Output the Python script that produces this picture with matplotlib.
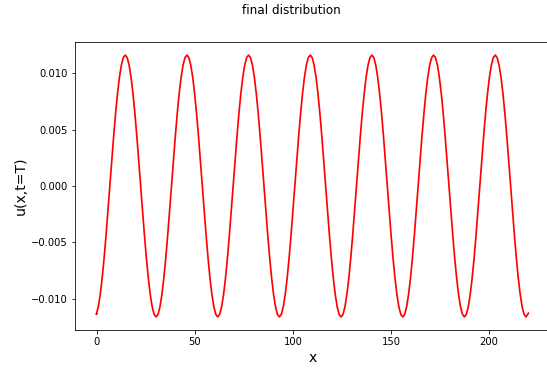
import numpy as np
import matplotlib
matplotlib.use("Agg")
import matplotlib.pyplot as plt

# Sample positions: x=0, then evenly spaced points (one every 1/32 of the ~31.4 wavelength), then x=220
x_start = [0.0]
x_grid = list(-1.11 + 0.981748 * np.arange(1, 225))
x_end = [220.0]
x_vals = x_start + x_grid + x_end

# u(x, t=T) values at those positions (seven wavelengths)
u_start = [-0.01131]
u_p1 = [-0.011377, -0.010717, -0.009645, -0.008202, -0.006445, -0.004439, -0.002263, 0.0,
        0.002263, 0.004439, 0.006445, 0.008202, 0.009645, 0.010717, 0.011377, 0.0116,
        0.011377, 0.010717, 0.009645, 0.008202, 0.006445, 0.004439, 0.002263, 0.0,
        -0.002263, -0.004439, -0.006445, -0.008202, -0.009645, -0.010717, -0.011377, -0.0116]
u_p2 = [-0.011377, -0.010717, -0.009645, -0.008202, -0.006445, -0.004439, -0.002263, 0.0,
        0.002263, 0.004439, 0.006445, 0.008202, 0.009645, 0.010717, 0.011377, 0.0116,
        0.011377, 0.010717, 0.009645, 0.008202, 0.006445, 0.004439, 0.002263, 0.0,
        -0.002263, -0.004439, -0.006445, -0.008202, -0.009645, -0.010717, -0.011377, -0.0116]
u_p3 = [-0.011377, -0.010717, -0.009645, -0.008202, -0.006445, -0.004439, -0.002263, 0.0,
        0.002263, 0.004439, 0.006445, 0.008202, 0.009645, 0.010717, 0.011377, 0.0116,
        0.011377, 0.010717, 0.009645, 0.008202, 0.006445, 0.004439, 0.002263, 0.0,
        -0.002263, -0.004439, -0.006445, -0.008202, -0.009645, -0.010717, -0.011377, -0.0116]
u_p4 = [-0.011377, -0.010717, -0.009645, -0.008202, -0.006445, -0.004439, -0.002263, 0.0,
        0.002263, 0.004439, 0.006445, 0.008202, 0.009645, 0.010717, 0.011377, 0.0116,
        0.011377, 0.010717, 0.009645, 0.008202, 0.006445, 0.004439, 0.002263, 0.0,
        -0.002263, -0.004439, -0.006445, -0.008202, -0.009645, -0.010717, -0.011377, -0.0116]
u_p5 = [-0.011377, -0.010717, -0.009645, -0.008202, -0.006445, -0.004439, -0.002263, 0.0,
        0.002263, 0.004439, 0.006445, 0.008202, 0.009645, 0.010717, 0.011377, 0.0116,
        0.011377, 0.010717, 0.009645, 0.008202, 0.006445, 0.004439, 0.002263, 0.0,
        -0.002263, -0.004439, -0.006445, -0.008202, -0.009645, -0.010717, -0.011377, -0.0116]
u_p6 = [-0.011377, -0.010717, -0.009645, -0.008202, -0.006445, -0.004439, -0.002263, 0.0,
        0.002263, 0.004439, 0.006445, 0.008202, 0.009645, 0.010717, 0.011377, 0.0116,
        0.011377, 0.010717, 0.009645, 0.008202, 0.006445, 0.004439, 0.002263, 0.0,
        -0.002263, -0.004439, -0.006445, -0.008202, -0.009645, -0.010717, -0.011377, -0.0116]
u_p7 = [-0.011377, -0.010717, -0.009645, -0.008202, -0.006445, -0.004439, -0.002263, 0.0,
        0.002263, 0.004439, 0.006445, 0.008202, 0.009645, 0.010717, 0.011377, 0.0116,
        0.011377, 0.010717, 0.009645, 0.008202, 0.006445, 0.004439, 0.002263, 0.0,
        -0.002263, -0.004439, -0.006445, -0.008202, -0.009645, -0.010717, -0.011377, -0.0116]
u_end = [-0.01127]
u_vals = u_start + u_p1 + u_p2 + u_p3 + u_p4 + u_p5 + u_p6 + u_p7 + u_end

x_ticks = [0, 50, 100, 150, 200]
y_ticks = [-0.010, -0.005, 0.000, 0.005, 0.010]

fig = plt.figure(figsize=(547 / 72, 371 / 72), dpi=72)
ax = fig.add_axes([75 / 547, 1 - 330 / 371, 475 / 547, 288 / 371])
ax.plot(x_vals, u_vals, color="red", linewidth=1.7)
ax.set_xticks(x_ticks)
ax.set_yticks(y_ticks)
ax.set_xlim(-11.0, 231.0)
ax.set_ylim(-0.01276, 0.01276)
ax.tick_params(labelsize=10)
ax.set_xlabel("x", fontsize=14)
ax.set_ylabel("u(x,t=T)", fontsize=14)
fig.text(291 / 547, 1 - 10 / 371, "final distribution", ha="center", va="center", fontsize=12)

fig.savefig("out.png", dpi=72)
